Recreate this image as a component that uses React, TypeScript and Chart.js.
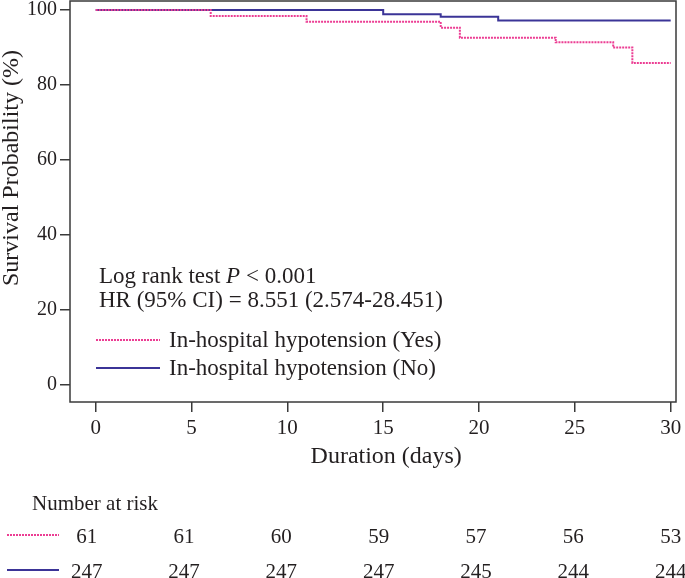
import React, { useEffect, useRef } from "react";
import { Chart, registerables } from "chart.js";

Chart.register(...registerables);

// ---- data ----
const xTicks = [0, 5, 10, 15, 20, 25, 30];
const yTicks = [0, 20, 40, 60, 80, 100];
const yesTimes = [0, 6, 11, 18, 19, 24, 27, 28, 30];
const yesSurv = [100, 98.4, 96.9, 95.3, 92.6, 91.4, 90.0, 85.9, 85.9];
const noTimes = [0, 15, 18, 21, 30];
const noSurv = [100, 98.9, 98.2, 97.2, 97.2];
const riskYes = [61, 61, 60, 59, 57, 56, 53];
const riskNo = [247, 247, 247, 247, 245, 244, 244];
const seriesLabels = ["In-hospital hypotension (Yes)", "In-hospital hypotension (No)"];
const xTitle = "Duration (days)";
const yTitle = "Survival Probability (%)";
const riskTitle = "Number at risk";
const statLine1 = ["Log rank test ", "P", " < 0.001"];
const statLine2 = "HR (95% CI) = 8.551 (2.574-28.451)";

const PINK = "#ec3d93";
const BLUE = "#3b3497";
const AXIS = "#3a3a3a";
const TEXT = "#231f20";
const SERIF = "'Liberation Serif', 'DejaVu Serif', serif";

const overlay = {
  id: "kmOverlay",
  afterDraw(chart: any) {
    const { ctx, chartArea } = chart;
    const xs = chart.scales.x;
    const { left, right, top, bottom } = chartArea;
    ctx.save();
    // plot box
    ctx.strokeStyle = AXIS;
    ctx.lineWidth = 1.5;
    ctx.setLineDash([]);
    ctx.strokeRect(left, top, right - left, bottom - top);

    ctx.fillStyle = TEXT;
    // y title
    ctx.save();
    ctx.translate(12, 168);
    ctx.rotate(-Math.PI / 2);
    ctx.font = `24px ${SERIF}`;
    ctx.textAlign = "center";
    ctx.textBaseline = "middle";
    ctx.fillText(yTitle, 0, 0);
    ctx.restore();

    // x title
    const x0 = xs.getPixelForValue(xTicks[0]);
    const x1 = xs.getPixelForValue(xTicks[xTicks.length - 1]);
    ctx.font = `24px ${SERIF}`;
    ctx.textAlign = "center";
    ctx.textBaseline = "alphabetic";
    ctx.fillText(xTitle, (x0 + x1) / 2 + 3, bottom + 61);

    // stats text
    const tx = left + 29;
    ctx.textAlign = "left";
    let cx = tx;
    const f23 = `23px ${SERIF}`;
    const f23i = `italic 23px ${SERIF}`;
    const by1 = top + 282;
    ctx.font = f23;
    ctx.fillText(statLine1[0], cx, by1);
    cx += ctx.measureText(statLine1[0]).width;
    ctx.font = f23i;
    ctx.fillText(statLine1[1], cx, by1);
    cx += ctx.measureText(statLine1[1]).width;
    ctx.font = f23;
    ctx.fillText(statLine1[2], cx, by1);
    ctx.fillText(statLine2, tx, top + 306);

    // legend
    const legY = [top + 339, top + 367];
    const colors = [PINK, BLUE];
    const dashes = [[2, 1], []];
    for (let i = 0; i < 2; i++) {
      ctx.strokeStyle = colors[i];
      ctx.lineWidth = 2;
      ctx.setLineDash(dashes[i]);
      ctx.beginPath();
      ctx.moveTo(left + 26, legY[i]);
      ctx.lineTo(left + 90, legY[i]);
      ctx.stroke();
      ctx.setLineDash([]);
      ctx.font = f23;
      ctx.fillText(seriesLabels[i], left + 99, legY[i] + 7);
    }

    // number at risk table
    ctx.font = `21px ${SERIF}`;
    ctx.textAlign = "left";
    ctx.fillText(riskTitle, 32, 510);
    const rowY = [535, 570];
    const rows = [riskYes, riskNo];
    const c0 = xs.getPixelForValue(xTicks[0]) - 9;
    const c1 = xs.getPixelForValue(xTicks[xTicks.length - 1]);
    for (let r = 0; r < 2; r++) {
      ctx.strokeStyle = colors[r];
      ctx.lineWidth = 2;
      ctx.setLineDash(dashes[r]);
      ctx.beginPath();
      ctx.moveTo(7, rowY[r]);
      ctx.lineTo(59, rowY[r]);
      ctx.stroke();
      ctx.setLineDash([]);
      ctx.textAlign = "center";
      ctx.textBaseline = "alphabetic";
      rows[r].forEach((v, i) => {
        const px = c0 + ((c1 - c0) * i) / (rows[r].length - 1);
        ctx.fillText(String(v), px, rowY[r] + 7.5);
      });
    }
    ctx.restore();
  },
};

export default function App() {
  const ref = useRef<HTMLCanvasElement | null>(null);
  useEffect(() => {
    document.body.style.margin = "0";
    const canvas = ref.current;
    if (!canvas) return;
    const chart = new Chart(canvas, {
      type: "line",
      data: {
        datasets: [
          {
            label: seriesLabels[0],
            data: yesTimes.map((t, i) => ({ x: t, y: yesSurv[i] })),
            borderColor: PINK,
            borderWidth: 2,
            borderDash: [2, 1],
            stepped: "before",
            pointRadius: 0,
            fill: false,
          },
          {
            label: seriesLabels[1],
            data: noTimes.map((t, i) => ({ x: t, y: noSurv[i] })),
            borderColor: BLUE,
            borderWidth: 2,
            stepped: "before",
            pointRadius: 0,
            fill: false,
          },
        ],
      },
      options: {
        animation: false,
        responsive: false,
        devicePixelRatio: 1,
        layout: { padding: { top: 1, right: 9, left: 0, bottom: 0 } },
        plugins: { legend: { display: false }, tooltip: { enabled: false } },
        scales: {
          x: {
            type: "linear",
            min: -1.341,
            max: 30.277,
            afterBuildTicks: (s: any) => {
              s.ticks = xTicks.map((v) => ({ value: v }));
            },
            afterFit: (s: any) => {
              s.height = 176;
              s.paddingLeft = 0;
              s.paddingRight = 0;
              s.paddingTop = 0;
              s.paddingBottom = 0;
            },
            border: { display: false },
            grid: { drawOnChartArea: false, drawTicks: true, tickLength: 10, color: AXIS, lineWidth: 1.5 },
            ticks: { font: { family: SERIF, size: 21 }, color: TEXT, padding: 4, maxRotation: 0 },
          },
          y: {
            type: "linear",
            min: -4.53,
            max: 102.4,
            afterBuildTicks: (s: any) => {
              s.ticks = yTicks.map((v) => ({ value: v }));
            },
            afterFit: (s: any) => {
              s.width = 70;
              s.paddingLeft = 0;
              s.paddingRight = 0;
              s.paddingTop = 0;
              s.paddingBottom = 0;
            },
            border: { display: false },
            grid: { drawOnChartArea: false, drawTicks: true, tickLength: 10, color: AXIS, lineWidth: 1.5 },
            ticks: { font: { family: SERIF, size: 20 }, color: TEXT, padding: 3 },
          },
        },
      },
      plugins: [overlay],
    } as any);
    return () => chart.destroy();
  }, []);
  return <canvas ref={ref} width={685} height={578} style={{ display: "block" }} />;
}
